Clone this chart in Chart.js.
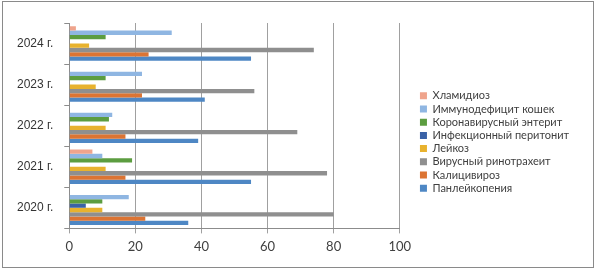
<!DOCTYPE html>
<html>
<head>
<meta charset="utf-8">
<script src="https://cdn.jsdelivr.net/npm/chart.js@4"></script>
<style>
  body { margin: 0; background: #fff; }
  canvas { display: block; }
</style>
</head>
<body>
<canvas id="chart" width="600" height="269"></canvas>
<script>
// годы сверху вниз, как на картинке
const years = ['2024 г.', '2023 г.', '2022 г.', '2021 г.', '2020 г.'];
const xTicks = [0, 20, 40, 60, 80, 100];

const hlamidioz = [2, 0, 0, 7, 0];
const immunodeficit = [31, 22, 13, 10, 18];
const koronavirus = [11, 11, 12, 19, 10];
const peritonit = [0, 0, 0, 0, 5];
const leikoz = [6, 8, 11, 11, 10];
const rinotraheit = [74, 56, 69, 78, 80];
const kalicivirus = [24, 22, 17, 17, 23];
const panleikopenia = [55, 41, 39, 55, 36];

const series = [
  ['Хламидиоз', hlamidioz, '#efa48c'],
  ['Иммунодефицит кошек', immunodeficit, '#8fb6e2'],
  ['Коронавирусный энтерит', koronavirus, '#5c9d40'],
  ['Инфекционный перитонит', peritonit, '#3a62a6'],
  ['Лейкоз', leikoz, '#e8b22e'],
  ['Вирусный ринотрахеит', rinotraheit, '#8f8f8f'],
  ['Калицивироз', kalicivirus, '#dc7433'],
  ['Панлейкопения', panleikopenia, '#4e87c4']
];

const frame = {
  id: 'frame',
  beforeDraw(chart) {
    const ctx = chart.ctx;
    ctx.save();
    ctx.strokeStyle = '#8a8a8a';
    ctx.lineWidth = 1;
    ctx.strokeRect(2.5, 1.5, 591, 266);
    ctx.restore();
  },
  afterLayout(chart) {
    // отступ между областью графика и легендой, и чтобы подписи не обрезались
    chart.legend.left += 18;
    chart.legend.right += 60;
  }
};

function draw() {
  new Chart(document.getElementById('chart'), {
    type: 'bar',
    data: {
      labels: years,
      datasets: series.map(s => ({
        label: s[0],
        data: s[1],
        backgroundColor: s[2],
        categoryPercentage: 0.84,
        barPercentage: 1
      }))
    },
    options: {
      indexAxis: 'y',
      responsive: false,
      animation: false,
      layout: { padding: { top: 23, bottom: 8, left: 6, right: 69 } },
      plugins: {
        tooltip: { enabled: false },
        legend: {
          position: 'right',
          labels: {
            boxWidth: 7,
            boxHeight: 7,
            padding: 2.2,
            color: '#404040',
            font: { family: 'Lato', size: 11 }
          }
        }
      },
      scales: {
        x: {
          min: 0,
          max: 100,
          afterBuildTicks: axis => { axis.ticks = xTicks.map(v => ({ value: v })); },
          grid: { color: '#a0a0a0', tickLength: 5 },
          border: { color: '#8c8c8c' },
          ticks: { color: '#404040', padding: 6, font: { family: 'Lato', size: 13 } }
        },
        y: {
          grid: { drawOnChartArea: false, color: '#8c8c8c', tickLength: 5 },
          border: { color: '#8c8c8c' },
          ticks: { color: '#333', padding: 11, font: { family: 'Liberation Sans', size: 12 } }
        }
      }
    },
    plugins: [frame]
  });
}

Promise.all([
  document.fonts.load('11px Lato'),
  document.fonts.load('13px Lato'),
  document.fonts.load('12px "Liberation Sans"')
]).then(draw, draw);
</script>
</body>
</html>
